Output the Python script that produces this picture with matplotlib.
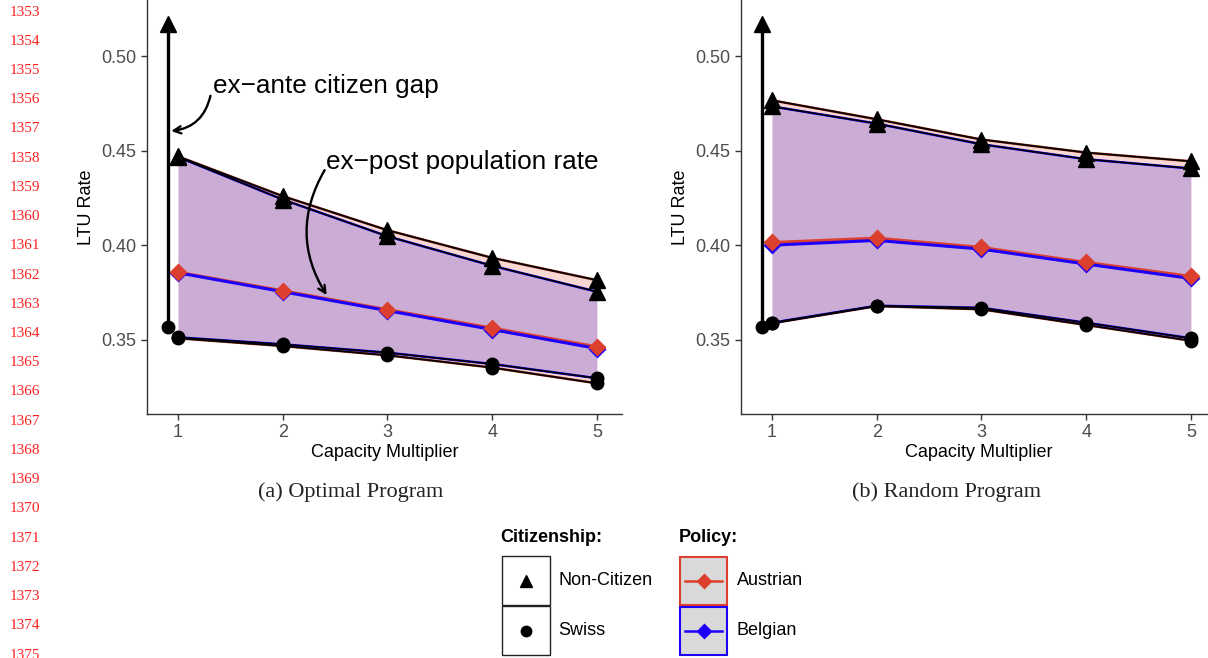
import numpy as np
import matplotlib.pyplot as plt
from matplotlib.patches import Rectangle

plt.rcParams['font.family'] = ['Liberation Sans', 'DejaVu Sans']

capacity = [1, 2, 3, 4, 5]

# Optimal program
opt_noncit_aut = [0.4470, 0.4260, 0.4080, 0.3934, 0.3816]
opt_noncit_bel = [0.4467, 0.4242, 0.4048, 0.3892, 0.3755]
opt_pop_aut = [0.3858, 0.3760, 0.3660, 0.3563, 0.3464]
opt_pop_bel = [0.3855, 0.3755, 0.3655, 0.3555, 0.3455]
opt_swiss_aut = [0.3509, 0.3468, 0.3419, 0.3354, 0.3271]
opt_swiss_bel = [0.3514, 0.3477, 0.3433, 0.3373, 0.3298]

# Random program
rnd_noncit_aut = [0.4766, 0.4666, 0.4559, 0.4490, 0.4444]
rnd_noncit_bel = [0.4734, 0.4643, 0.4534, 0.4455, 0.4406]
rnd_pop_aut = [0.4015, 0.4038, 0.3989, 0.3910, 0.3836]
rnd_pop_bel = [0.4001, 0.4026, 0.3980, 0.3901, 0.3825]
rnd_swiss_aut = [0.3588, 0.3679, 0.3662, 0.3579, 0.3496]
rnd_swiss_bel = [0.3591, 0.3681, 0.3670, 0.3591, 0.3509]

# ex-ante rates before any program
ex_ante_x = 0.9
ex_ante_swiss = 0.357
ex_ante_noncit = 0.517

line_numbers = list(range(1353, 1376))

RED = '#DD3F2E'
BLUE = '#1E00FA'
AUT_FILL = '#F7D7D2'
BEL_FILL = (0.39, 0.29, 0.86, 0.30)


def draw_panel(ax, noncit_aut, noncit_bel, pop_aut, pop_bel, swiss_aut, swiss_bel):
    ax.fill_between(capacity, swiss_aut, noncit_aut, color=AUT_FILL, lw=0, zorder=1)
    ax.fill_between(capacity, swiss_bel, noncit_bel, color=BEL_FILL, lw=0, zorder=1.1)

    for ys, col in [(noncit_aut, '#A0301F'), (swiss_aut, '#A0301F'),
                    (noncit_bel, BLUE), (swiss_bel, BLUE)]:
        ax.plot(capacity, ys, color=col, lw=1.8, zorder=2)
        ax.plot(capacity, ys, color='black', lw=1.2, zorder=3)

    ax.plot(capacity, pop_aut, color=RED, lw=2.2, zorder=4)
    ax.plot(capacity, pop_bel, color=BLUE, lw=2.2, zorder=4.1)
    ax.plot(capacity, pop_bel, 'D', color=BLUE, ms=9.5, mec='none', zorder=5)
    ax.plot(capacity, pop_aut, 'D', color=RED, ms=9.5, mec='none', zorder=5.1)

    for ys in (noncit_aut, noncit_bel):
        ax.plot(capacity, ys, '^', color='black', ms=11, zorder=6)
    for ys in (swiss_aut, swiss_bel):
        ax.plot(capacity, ys, 'o', color='black', ms=9, zorder=6)

    ax.plot([ex_ante_x, ex_ante_x], [ex_ante_swiss, ex_ante_noncit], color='black', lw=2.4, zorder=6)
    ax.plot(ex_ante_x, ex_ante_noncit, '^', color='black', ms=12, zorder=7)
    ax.plot(ex_ante_x, ex_ante_swiss, 'o', color='black', ms=9, zorder=7)

    ax.set_xlim(0.704, 5.24)
    ax.set_ylim(0.3109, 0.5296)
    ax.set_xticks(capacity)
    ax.set_yticks([0.35, 0.40, 0.45, 0.50])
    ax.set_yticklabels(['0.35', '0.40', '0.45', '0.50'])
    for s in ('top', 'right'):
        ax.spines[s].set_visible(False)
    for s in ('left', 'bottom'):
        ax.spines[s].set_color('#333333')
        ax.spines[s].set_linewidth(1.0)
    ax.tick_params(colors='#333333', labelcolor='#4D4D4D', labelsize=13, length=4, width=1)
    ax.set_xlabel('Capacity Multiplier', fontsize=13, labelpad=2)
    ax.set_ylabel('LTU Rate', fontsize=13, labelpad=5)


fig = plt.figure(figsize=(12.08, 6.58), dpi=100)

ax1 = fig.add_axes([147 / 1208, 1 - 414 / 658, 475 / 1208, 414 / 658])
draw_panel(ax1, opt_noncit_aut, opt_noncit_bel, opt_pop_aut, opt_pop_bel, opt_swiss_aut, opt_swiss_bel)

ax2 = fig.add_axes([741 / 1208, 1 - 414 / 658, 475 / 1208, 414 / 658])
draw_panel(ax2, rnd_noncit_aut, rnd_noncit_bel, rnd_pop_aut, rnd_pop_bel, rnd_swiss_aut, rnd_swiss_bel)

# annotations on the optimal panel
ax1.text(1.33, 0.484, 'ex\u2212ante citizen gap', fontsize=18.8, va='center', ha='left', zorder=8)
ax1.annotate('', xy=(0.935, 0.4604), xytext=(1.31, 0.479),
             arrowprops=dict(arrowstyle='->', connectionstyle='arc3,rad=-0.35', lw=1.7,
                             color='black', shrinkA=0, shrinkB=0, mutation_scale=13))
ax1.text(2.41, 0.444, 'ex\u2212post population rate', fontsize=18.8, va='center', ha='left', zorder=8)
ax1.annotate('', xy=(2.42, 0.3737), xytext=(2.40, 0.4397),
             arrowprops=dict(arrowstyle='->', connectionstyle='arc3,rad=0.3', lw=1.7,
                             color='black', shrinkA=0, shrinkB=0, mutation_scale=13))

# captions
fig.text(351 / 1208, 1 - 492 / 658, '(a) Optimal Program', ha='center', va='center',
         fontsize=16, family='Liberation Serif', color='#222222')
fig.text(947 / 1208, 1 - 492 / 658, '(b) Random Program', ha='center', va='center',
         fontsize=16, family='Liberation Serif', color='#222222')

# page line numbers
for i, n in enumerate(line_numbers):
    fig.text(10 / 1208, 1 - (12 + i * 29.23) / 658, str(n), ha='left', va='center',
             fontsize=11, family='Liberation Serif', color='#FF2020')

# legend drawn in pixel coordinates
lg = fig.add_axes([0, 0, 1, 1])
lg.set_xlim(0, 1208)
lg.set_ylim(658, 0)
lg.axis('off')
lg.patch.set_visible(False)

lg.text(500, 538, 'Citizenship:', fontsize=13, fontweight='bold', va='center', ha='left')
lg.text(679, 538, 'Policy:', fontsize=13, fontweight='bold', va='center', ha='left')

cit_labels = ['Non-Citizen', 'Swiss']
cit_markers = ['^', 'o']
pol_labels = ['Austrian', 'Belgian']
pol_colors = [RED, BLUE]
for k in range(2):
    y0 = 556 + k * 50
    lg.add_patch(Rectangle((502, y0), 48, 49, facecolor='white', edgecolor='#222222', lw=1))
    lg.plot(526, y0 + 24.5, cit_markers[k], color='black', ms=9 if k == 0 else 7.5)
    lg.text(558, y0 + 24.5, cit_labels[k], fontsize=13, va='center', ha='left')

    lg.add_patch(Rectangle((680, y0 + 0.5), 47, 48, facecolor='#D9D9D9', edgecolor=pol_colors[k], lw=1.5))
    lg.plot([685, 722], [y0 + 24.5, y0 + 24.5], color=pol_colors[k], lw=1.8)
    lg.plot(703.5, y0 + 24.5, 'D', color=pol_colors[k], ms=8.5, mec='none')
    lg.text(737, y0 + 24.5, pol_labels[k], fontsize=13, va='center', ha='left')

plt.savefig('out.png', dpi=100)
